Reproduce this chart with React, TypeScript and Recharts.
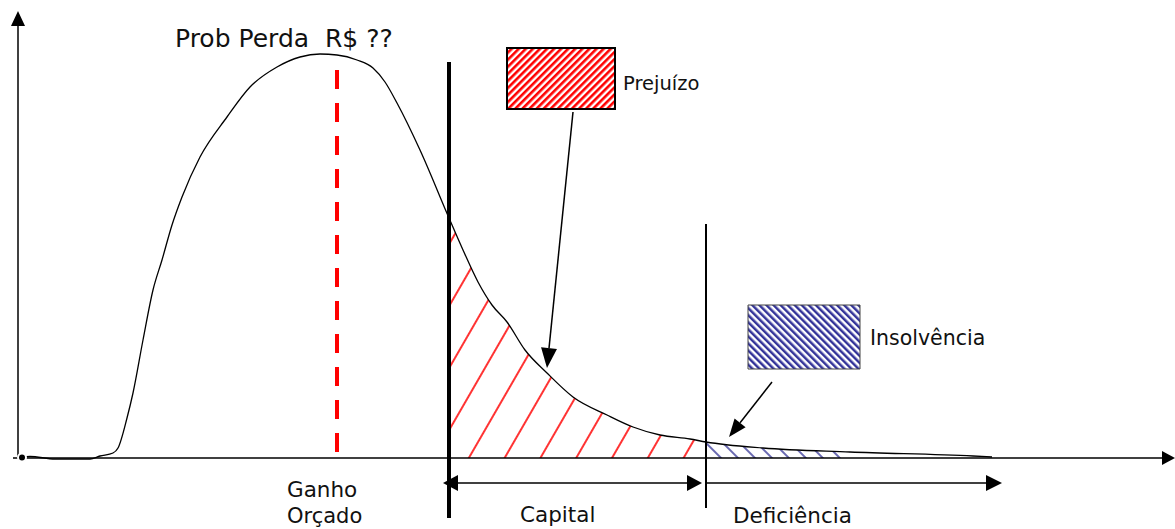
import React from "react";
import {
  ComposedChart,
  Line,
  Area,
  XAxis,
  YAxis,
  ReferenceLine,
  ReferenceArea,
  ReferenceDot,
} from "recharts";

// loss distribution (arbitrary units: x = outcome, y = density above the baseline)
const curveX = [22, 30, 55, 90, 100, 113, 118, 127, 133, 143, 153, 162, 172, 182, 200, 227, 250, 277, 300, 320, 337, 357, 373, 385, 397, 420, 449, 463, 478, 492, 507, 525, 547, 573, 607, 633, 660, 690, 706, 763, 850, 973, 992];
const curveY = [0.5, 1.5, -1, -1, 2, 5, 10, 40, 65, 118, 168, 198, 233, 261, 301, 341, 371, 391, 401, 404, 403, 398, 390, 376, 355, 308, 240, 208, 176, 153, 136, 108, 85, 61, 43, 31, 23, 19, 16, 10, 6, 2, 1];

// key thresholds on the outcome axis
const budgetX = 337; // ganho orçado
const capitalX = 449; // capital starts
const deficiencyX = 706; // capital exhausted
const tailEndX = 850; // end of hatched insolvency tail
const deficiencyEndX = 1002;

const labels = ["Prob Perda  R$ ??", "Prejuízo", "Insolvência", "Ganho", "Orçado", "Capital", "Deficiência"];

const data = curveX.map((x, i) => ({
  x,
  y: curveY[i],
  red: x >= capitalX && x <= deficiencyX ? curveY[i] : null,
  blue: x >= deficiencyX && x <= tailEndX ? curveY[i] : null,
}));

// layout of the annotations, in chart units
const X_MAX = 1175;
const Y_MIN = -71;
const Y_MAX = 458;
const textPos = [
  { x: 175, y: 411, size: 25 },
  { x: 623, y: 368, size: 19.5 },
  { x: 870, y: 113, size: 20.5 },
  { x: 287, y: -39, size: 21.5 },
  { x: 287, y: -65, size: 21 },
  { x: 520, y: -64, size: 21.5 },
  { x: 733, y: -65, size: 21.5 },
];

const arrow = (head: number, half: number, width: number, both = false) => (p: any) => {
  const { x1, y1, x2, y2 } = p;
  const len = Math.hypot(x2 - x1, y2 - y1) || 1;
  const ux = (x2 - x1) / len;
  const uy = (y2 - y1) / len;
  const tri = (tx: number, ty: number, dx: number, dy: number) => {
    const bx = tx - dx * head;
    const by = ty - dy * head;
    return `${tx},${ty} ${bx - dy * half},${by + dx * half} ${bx + dy * half},${by - dx * half}`;
  };
  const sx = both ? x1 + ux * head : x1;
  const sy = both ? y1 + uy * head : y1;
  return (
    <g>
      <line x1={sx} y1={sy} x2={x2 - ux * head} y2={y2 - uy * head} stroke="#000" strokeWidth={width} />
      <polygon points={tri(x2, y2, ux, uy)} fill="#000" />
      {both && <polygon points={tri(x1, y1, -ux, -uy)} fill="#000" />}
    </g>
  );
};

const font = "'DejaVu Sans', sans-serif";

export default function App() {
  return (
    <div style={{ position: "absolute", left: 0, top: 0, background: "#fff" }}>
      <ComposedChart width={1175} height={529} data={data} margin={{ top: 0, right: 0, bottom: 0, left: 0 }}>
        <defs>
          <pattern id="redHatch" patternUnits="userSpaceOnUse" width="31" height="10" patternTransform="rotate(30)">
            <line x1="15" y1="0" x2="15" y2="10" stroke="#ff0000" strokeWidth="1.6" />
          </pattern>
          <pattern id="blueHatch" patternUnits="userSpaceOnUse" width="12" height="10" patternTransform="rotate(-45)">
            <line x1="6" y1="0" x2="6" y2="10" stroke="#27278f" strokeWidth="1.4" />
          </pattern>
          <pattern id="redBox" patternUnits="userSpaceOnUse" width="5" height="10" patternTransform="rotate(45)">
            <rect x="0" y="0" width="5" height="10" fill="#fff" />
            <rect x="0" y="0" width="2.6" height="10" fill="#ff0000" />
          </pattern>
          <pattern id="blueBox" patternUnits="userSpaceOnUse" width="5" height="10" patternTransform="rotate(-45)">
            <rect x="0" y="0" width="5" height="10" fill="#fff" />
            <rect x="0" y="0" width="2.5" height="10" fill="#333399" />
          </pattern>
        </defs>
        <XAxis type="number" dataKey="x" domain={[0, X_MAX]} allowDataOverflow hide />
        <YAxis type="number" domain={[Y_MIN, Y_MAX]} allowDataOverflow hide />

        <Area type="monotone" dataKey="red" baseValue={0} stroke="none" fill="url(#redHatch)" fillOpacity={1} isAnimationActive={false} />
        <Area type="monotone" dataKey="blue" baseValue={0} stroke="none" fill="url(#blueHatch)" fillOpacity={1} isAnimationActive={false} />

        {/* axes */}
        <ReferenceLine segment={[{ x: 18, y: 0 }, { x: 18, y: 447 }]} ifOverflow="visible" shape={arrow(15, 7, 1.5)} />
        <ReferenceLine segment={[{ x: 13, y: 0 }, { x: X_MAX, y: 0 }]} ifOverflow="visible" shape={arrow(13, 7, 1.5)} />

        <Line type="monotone" dataKey="y" stroke="#000" strokeWidth={1.3} dot={false} isAnimationActive={false} />

        <ReferenceLine segment={[{ x: budgetX, y: 6 }, { x: budgetX, y: 401 }]} ifOverflow="visible" stroke="#ff0000" strokeWidth={4} strokeDasharray="19 14" />
        <ReferenceLine segment={[{ x: capitalX, y: -60 }, { x: capitalX, y: 396 }]} ifOverflow="visible" stroke="#000" strokeWidth={4} />
        <ReferenceLine segment={[{ x: deficiencyX, y: -50 }, { x: deficiencyX, y: 234 }]} ifOverflow="visible" stroke="#000" strokeWidth={2} />

        {/* range arrows */}
        <ReferenceLine segment={[{ x: capitalX - 6, y: -25 }, { x: deficiencyX - 4, y: -25 }]} ifOverflow="visible" shape={arrow(15, 8, 1.5, true)} />
        <ReferenceLine segment={[{ x: deficiencyX, y: -25 }, { x: deficiencyEndX, y: -25 }]} ifOverflow="visible" shape={arrow(16, 8, 1.5)} />

        {/* legend boxes and pointers */}
        <ReferenceArea x1={507} x2={615} y1={349} y2={410} ifOverflow="visible" fill="url(#redBox)" fillOpacity={1} stroke="#000" strokeWidth={2} />
        <ReferenceArea x1={748} x2={860} y1={89} y2={153} ifOverflow="visible" fill="url(#blueBox)" fillOpacity={1} stroke="#444" strokeWidth={1} />
        <ReferenceLine segment={[{ x: 573, y: 346 }, { x: 547, y: 90 }]} ifOverflow="visible" shape={arrow(20, 8, 1.5)} />
        <ReferenceLine segment={[{ x: 772, y: 76 }, { x: 729, y: 21 }]} ifOverflow="visible" shape={arrow(18, 7, 1.5)} />

        {labels.map((t, i) => (
          <ReferenceDot
            key={t}
            x={textPos[i].x}
            y={textPos[i].y}
            r={0}
            ifOverflow="visible"
            shape={(p: any) => (
              <text x={p.cx} y={p.cy} fontFamily={font} fontSize={textPos[i].size} fill="#111" style={{ whiteSpace: "pre" }}>
                {t}
              </text>
            )}
          />
        ))}
      </ComposedChart>
    </div>
  );
}
